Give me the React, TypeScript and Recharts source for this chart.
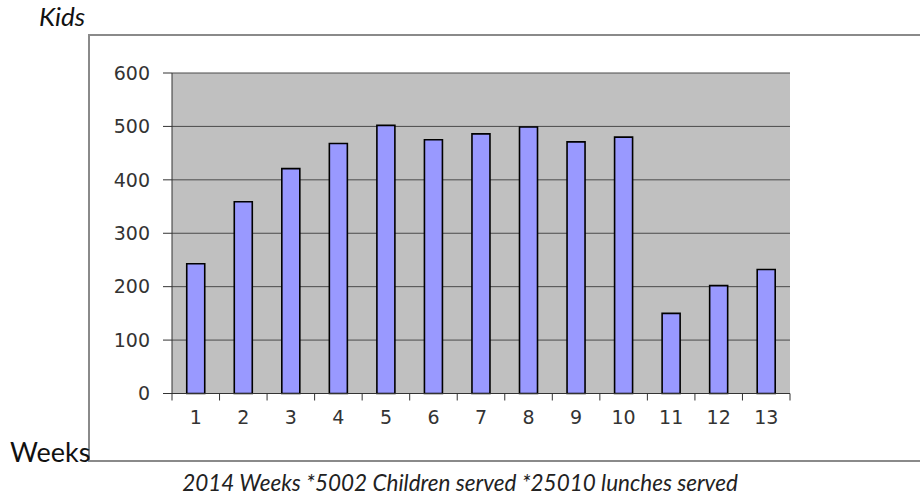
import { Bar, BarChart, CartesianGrid, XAxis, YAxis } from "recharts";

const weeks = ["1", "2", "3", "4", "5", "6", "7", "8", "9", "10", "11", "12", "13"];
const kids = [243, 359, 421, 468, 502, 475, 486, 499, 471, 480, 150, 202, 232];
const yTicks = [0, 100, 200, 300, 400, 500, 600];

const chartData = weeks.map((w, i) => ({ week: w, kids: kids[i] }));

// plot frame in page pixels
const PLOT_LEFT = 172;
const PLOT_RIGHT = 790;
const PLOT_TOP = 73;
const PLOT_BOTTOM = 393.5;
const Y_AXIS_W = 60;
const X_AXIS_H = 40;
const STEP = (PLOT_RIGHT - PLOT_LEFT) / weeks.length;

const axisFont = "'DejaVu Sans', sans-serif";
const textFont = "Lato, 'Open Sans', sans-serif";

function WeekTick(props: any) {
  const { x, y, payload, index } = props;
  const last = index === weeks.length - 1;
  return (
    <g>
      <line x1={x - STEP / 2} x2={x - STEP / 2} y1={y} y2={y + 7} stroke="#333" />
      {last && <line x1={x + STEP / 2} x2={x + STEP / 2} y1={y} y2={y + 7} stroke="#333" />}
      <text x={x} y={y + 30} textAnchor="middle" fill="#333" fontSize={19} fontFamily={axisFont}>
        {payload.value}
      </text>
    </g>
  );
}

export default function App() {
  return (
    <div style={{ position: "absolute", left: 0, top: 0, width: 920, height: 499, background: "#fff", overflow: "hidden" }}>
      <div
        style={{
          position: "absolute",
          left: 39,
          top: 1,
          fontFamily: textFont,
          fontStyle: "italic",
          fontSize: 26,
          lineHeight: "30px",
          color: "#111",
        }}
      >
        Kids
      </div>
      <div
        style={{
          position: "absolute",
          left: 88,
          top: 34,
          width: 900,
          height: 428,
          borderTop: "2px solid #8a8a8a",
          borderLeft: "2px solid #8a8a8a",
          borderBottom: "2px solid #8a8a8a",
          boxSizing: "border-box",
        }}
      />
      <div
        style={{
          position: "absolute",
          left: 10,
          top: 437,
          fontFamily: textFont,
          fontSize: 27,
          lineHeight: "30px",
          color: "#111",
        }}
      >
        Weeks
      </div>
      <div style={{ position: "absolute", left: 0, top: 0 }}>
        <BarChart
          width={920}
          height={499}
          data={chartData}
          barCategoryGap="31%"
          margin={{
            top: PLOT_TOP,
            left: PLOT_LEFT - Y_AXIS_W,
            right: 920 - PLOT_RIGHT,
            bottom: 499 - PLOT_BOTTOM - X_AXIS_H,
          }}
        >
          <CartesianGrid vertical={false} fill="#c0c0c0" stroke="#4a4a4a" />
          <XAxis
            dataKey="week"
            height={X_AXIS_H}
            axisLine={{ stroke: "#333" }}
            tickLine={false}
            tickSize={0}
            tickMargin={0}
            interval={0}
            tick={<WeekTick />}
          />
          <YAxis
            width={Y_AXIS_W}
            domain={[0, 600]}
            ticks={yTicks}
            axisLine={{ stroke: "#333" }}
            tickLine={{ stroke: "#333" }}
            tickSize={9}
            tickMargin={13}
            tick={{ fill: "#333", fontSize: 19, fontFamily: axisFont }}
          />
          <YAxis
            yAxisId="frame"
            orientation="right"
            width={0}
            domain={[0, 600]}
            axisLine={{ stroke: "#808080", strokeWidth: 1.5 }}
            tick={false}
            tickLine={false}
          />
          <Bar dataKey="kids" fill="#9999ff" stroke="#000" strokeWidth={1.6} isAnimationActive={false} />
        </BarChart>
      </div>
      <div
        style={{
          position: "absolute",
          left: 0,
          top: 469,
          width: 920,
          textAlign: "center",
          fontFamily: textFont,
          fontStyle: "italic",
          fontSize: 22.5,
          lineHeight: "28px",
          color: "#222",
        }}
      >
        2014 Weeks *5002 Children served *25010 lunches served
      </div>
    </div>
  );
}
